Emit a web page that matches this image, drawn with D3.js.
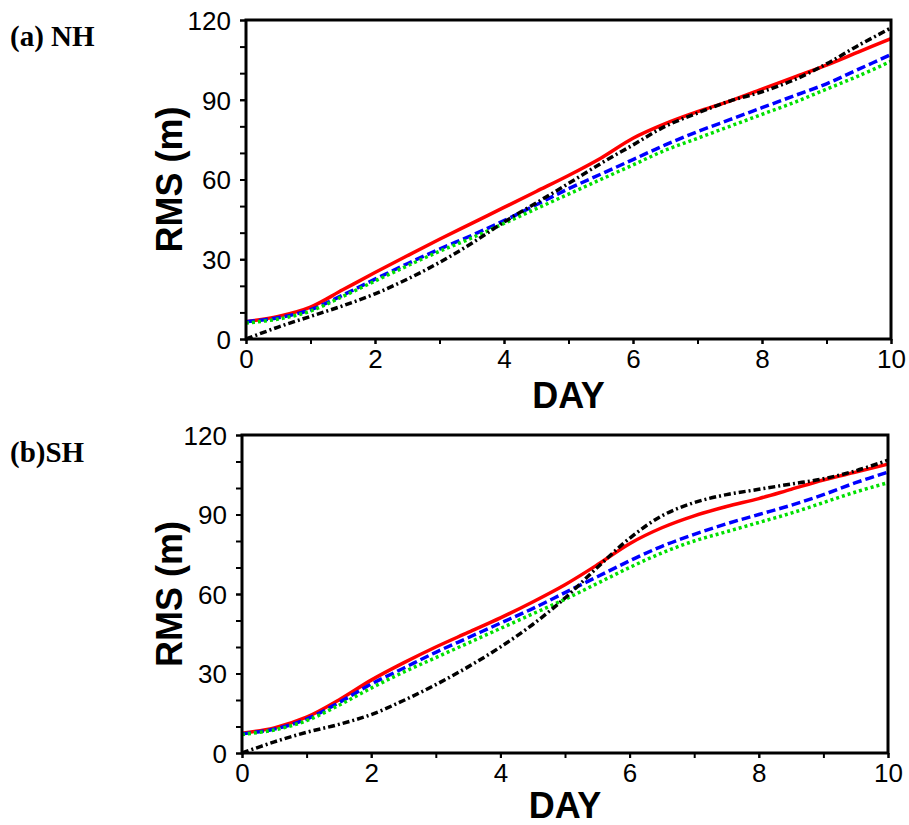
<!DOCTYPE html>
<html>
<head>
<meta charset="utf-8">
<script src="https://cdn.jsdelivr.net/npm/d3@7"></script>
<style>
body { margin: 0; background: #fff; }
.tick text { font-family: "Liberation Sans", Arial, sans-serif; }
</style>
</head>
<body>
<svg id="chart" width="909" height="825"></svg>
<script>
// forecast day, every half day
var days = [0, 0.5, 1, 1.5, 2, 2.5, 3, 3.5, 4, 4.5, 5, 5.5, 6, 6.5, 7, 7.5, 8, 8.5, 9, 9.5, 10];

// (a) NH
var nhRed   = [6.5, 8.5, 12, 18.5, 25, 31.3, 37.5, 43.5, 49.5, 55.5, 61.5, 68, 75.5, 81, 85.5, 89.5, 94, 98.5, 103, 108, 113];
var nhBlue  = [6.5, 8, 11, 16.5, 22.5, 28.3, 33.8, 39, 44.5, 50.5, 56.5, 62, 67.5, 73, 78, 82.5, 87, 91.5, 96, 101.5, 107];
var nhGreen = [6, 7.5, 10.5, 16, 21.8, 27.5, 33, 38, 43.5, 49, 54.5, 60, 65.5, 71, 75.5, 80, 84.5, 89, 94, 99, 104.5];
var nhBlack = [0, 4.5, 8.5, 12.5, 17, 22.5, 28.8, 36, 44, 51.2, 58.5, 66, 73, 80, 85, 89.5, 93, 97.5, 103.5, 110.5, 117];

// (b) SH
var shRed   = [7.5, 9.5, 13.5, 20, 27.5, 34, 40, 45.5, 51, 57, 63.5, 71, 79, 85, 89.5, 93, 96, 99.5, 103, 106, 109];
var shBlue  = [7.2, 9, 12.8, 19, 26, 32, 38, 43.5, 49, 54.5, 60.5, 66.5, 72.5, 78, 82.5, 86.5, 90, 93.5, 97.5, 102, 106];
var shGreen = [7, 8.7, 12.2, 18, 24.5, 30.5, 36, 41.5, 47, 52.5, 58, 64, 70, 75.5, 80, 83.5, 87, 90.5, 94.5, 98.5, 102];
var shBlack = [0, 4.2, 7.8, 10.8, 14.5, 19.8, 25.8, 32.5, 40, 48.5, 58.5, 70, 81, 89.5, 94.5, 97.5, 99.5, 101.5, 103.5, 106.5, 110.5];

var xTicks = [0, 2, 4, 6, 8, 10];
var yTicks = [0, 30, 60, 90, 120];

var styles = [
    {color: "#ff0000", dash: null},
    {color: "#0000ff", dash: "9,4"},
    {color: "#00e000", dash: "3,3"},
    {color: "#000000", dash: "7,3,2,3"}
];

var svg = d3.select("#chart");

var panel = function(box, label, labelY, dayY, series) {
    var x = d3.scaleLinear().domain([0, 10]).range([box.left, box.right]);
    var y = d3.scaleLinear().domain([0, 120]).range([box.bottom, box.top]);

    var g = svg.append("g");

    // lines first, frame drawn over them
    var line = d3.line()
        .x(function(d) { return x(d[0]); })
        .y(function(d) { return y(d[1]); })
        .curve(d3.curveCatmullRom.alpha(0.5));

    series.forEach(function(vals, i) {
        g.append("path")
            .datum(days.map(function(d, j) { return [d, vals[j]]; }))
            .attr("fill", "none")
            .attr("stroke", styles[i].color)
            .attr("stroke-width", 3.5)
            .attr("stroke-dasharray", styles[i].dash)
            .attr("d", line);
    });

    // minor ticks
    g.append("g")
        .attr("transform", "translate(" + box.left + ",0)")
        .call(d3.axisLeft(y).ticks(12).tickSize(6).tickFormat(""))
        .call(function(a) { a.select(".domain").remove(); })
        .selectAll("line").attr("stroke-width", 2);
    g.append("g")
        .attr("transform", "translate(0," + box.bottom + ")")
        .call(d3.axisBottom(x).ticks(10).tickSize(5).tickFormat(""))
        .call(function(a) { a.select(".domain").remove(); })
        .selectAll("line").attr("stroke-width", 2);

    // labelled ticks
    var ya = g.append("g")
        .attr("transform", "translate(" + box.left + ",0)")
        .call(d3.axisLeft(y).tickValues(yTicks).tickSize(6).tickPadding(9));
    ya.select(".domain").remove();
    ya.selectAll("line").attr("stroke-width", 2);
    ya.selectAll("text").attr("font-size", 26).attr("dy", "0.36em").attr("fill", "#000");

    var xa = g.append("g")
        .attr("transform", "translate(0," + box.bottom + ")")
        .call(d3.axisBottom(x).tickValues(xTicks).tickSize(5).tickPadding(6));
    xa.select(".domain").remove();
    xa.selectAll("line").attr("stroke-width", 2);
    xa.selectAll("text").attr("font-size", 26).attr("fill", "#000");

    // frame
    g.append("rect")
        .attr("x", box.left)
        .attr("y", box.top)
        .attr("width", box.right - box.left)
        .attr("height", box.bottom - box.top)
        .attr("fill", "none")
        .attr("stroke", "#000")
        .attr("stroke-width", 3);

    g.append("text")
        .attr("x", (box.left + box.right) / 2)
        .attr("y", dayY)
        .attr("text-anchor", "middle")
        .attr("font-family", "Liberation Sans, Arial, sans-serif")
        .attr("font-weight", "bold")
        .attr("font-size", 36)
        .text("DAY");

    g.append("text")
        .attr("transform", "translate(182," + (box.top + box.bottom) / 2 + ") rotate(-90)")
        .attr("text-anchor", "middle")
        .attr("font-family", "Liberation Sans, Arial, sans-serif")
        .attr("font-weight", "bold")
        .attr("font-size", 36)
        .text("RMS (m)");

    g.append("text")
        .attr("x", 10)
        .attr("y", labelY)
        .attr("font-family", "Liberation Serif, Times New Roman, serif")
        .attr("font-weight", "bold")
        .attr("font-size", 29)
        .text(label);
};

panel({left: 246, right: 891, top: 20, bottom: 339}, "(a) NH", 46, 408, [nhRed, nhBlue, nhGreen, nhBlack]);
panel({left: 242, right: 888, top: 435, bottom: 753}, "(b)SH", 462, 818, [shRed, shBlue, shGreen, shBlack]);
</script>
</body>
</html>
